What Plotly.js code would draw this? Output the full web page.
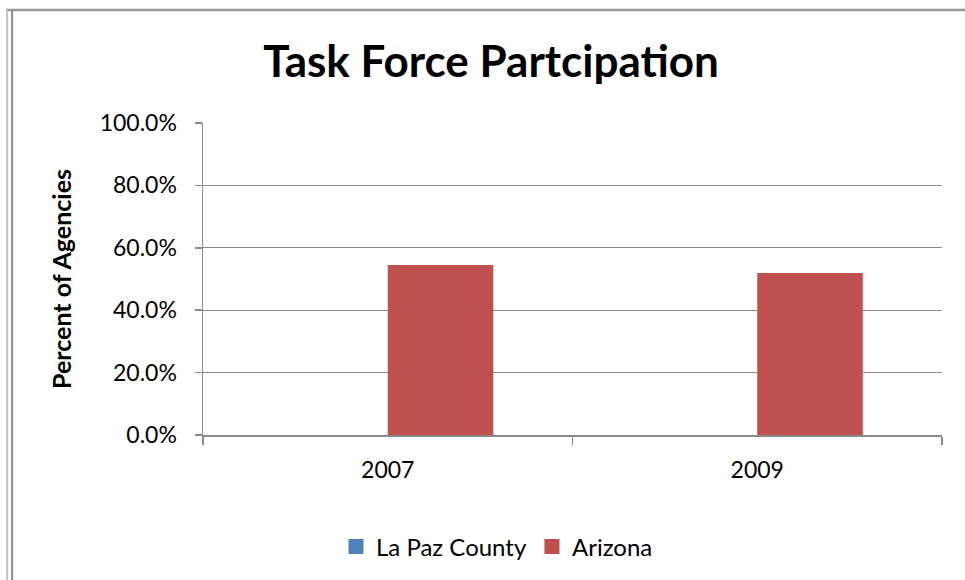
<!DOCTYPE html>
<html>
<head>
<meta charset="utf-8">
<script src="https://cdn.plot.ly/plotly-3.0.1.min.js"></script>
<style>html,body{margin:0;padding:0;background:#fff;}#chart{width:965px;height:580px;}</style>
</head>
<body>
<div id="chart"></div>
<script>
const categories = ['2007', '2009'];
const laPazValues = [0, 0];
const arizonaValues = [0.545, 0.519];
const seriesNames = ['La Paz County', 'Arizona'];
const seriesColors = ['#4F81BD', '#C0504D'];
const yTickValues = [0, 0.2, 0.4, 0.6, 0.8, 1.0];

const L = 203, R = 942.5, T = 123, B = 435, W = 965, H = 580;
const px = v => (v - L) / (R - L);
const py = v => (B - v) / (B - T);
const gridColor = '#8a8a8a';
const font = 'Lato, "Open Sans", sans-serif';

const traces = [
  { type: 'bar', name: seriesNames[0], x: categories, y: laPazValues, marker: { color: seriesColors[0] }, hoverinfo: 'none', showlegend: false },
  { type: 'bar', name: seriesNames[1], x: categories, y: arizonaValues, marker: { color: seriesColors[1] }, hoverinfo: 'none', showlegend: false },
  // legend entries with larger square swatches
  { type: 'scatter', mode: 'markers', name: seriesNames[0], x: [null], y: [null], marker: { symbol: 'square', size: 15, color: seriesColors[0] }, hoverinfo: 'none' },
  { type: 'scatter', mode: 'markers', name: seriesNames[1], x: [null], y: [null], marker: { symbol: 'square', size: 15, color: seriesColors[1] }, hoverinfo: 'none' }
];

const layout = {
  width: W, height: H,
  margin: { l: L, r: W - R, t: T, b: H - B, pad: 0 },
  paper_bgcolor: '#fff', plot_bgcolor: '#fff',
  font: { family: font, color: '#000', size: 23 },
  barmode: 'group', bargap: 0.4286, bargroupgap: 0,
  title: { text: '<b>Task Force Partcipation</b>', font: { family: font, size: 44, color: '#000' },
           xref: 'container', yref: 'container', x: 491 / W, xanchor: 'center', y: 1 - 62 / H, yanchor: 'middle' },
  xaxis: {
    type: 'category', tickson: 'boundaries', ticks: 'outside', ticklen: 8, tickwidth: 1.5, tickcolor: gridColor,
    showline: true, linecolor: gridColor, linewidth: 1.5, showgrid: false, zeroline: false,
    tickfont: { family: font, size: 23, color: '#000' }, ticklabelstandoff: 14, fixedrange: true
  },
  yaxis: {
    range: [0, 1], tickvals: yTickValues, tickformat: '.1%', ticks: 'outside', ticklen: 7, tickwidth: 1.5, tickcolor: gridColor,
    showline: true, linecolor: gridColor, linewidth: 1.5, showgrid: true, gridcolor: gridColor, gridwidth: 1.2, zeroline: false,
    tickfont: { family: font, size: 23, color: '#000' }, ticklabelstandoff: 13, fixedrange: true,
    title: { text: '<b>Percent of Agencies</b>', font: { family: font, size: 25, color: '#000' }, standoff: 21 }
  },
  legend: {
    orientation: 'h', xref: 'container', yref: 'container', x: 497 / W, xanchor: 'center', y: 1 - 547 / H, yanchor: 'middle',
    font: { family: font, size: 24, color: '#000' }, itemwidth: 30, traceorder: 'normal', bgcolor: 'rgba(0,0,0,0)'
  },
  showlegend: true,
  shapes: [
    { type: 'line', xref: 'paper', yref: 'paper', x0: px(6), x1: px(975), y0: py(10), y1: py(10), line: { color: '#999999', width: 2.5 } },
    { type: 'line', xref: 'paper', yref: 'paper', x0: px(7), x1: px(7), y0: py(10), y1: py(600), line: { color: '#c4c4c4', width: 2 } },
    { type: 'line', xref: 'paper', yref: 'paper', x0: px(12), x1: px(12), y0: py(10), y1: py(600), line: { color: '#888888', width: 2 } }
  ]
};

Plotly.newPlot('chart', traces, layout, { staticPlot: true, displayModeBar: false });
</script>
</body>
</html>
